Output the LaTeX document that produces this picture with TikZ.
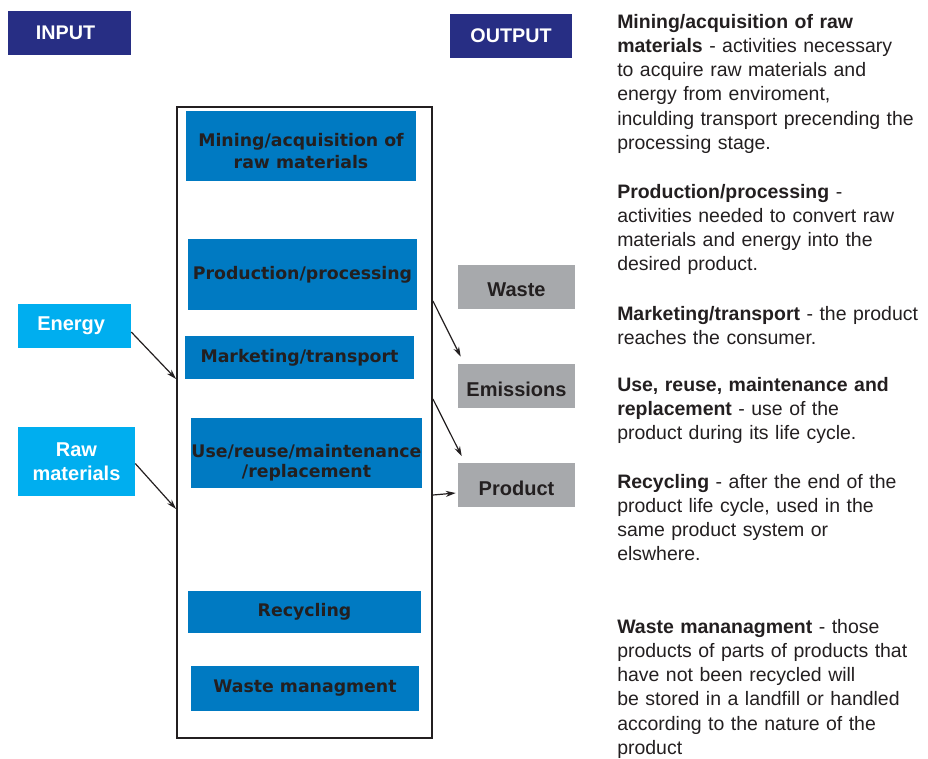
\documentclass[tikz,border=0pt]{standalone}
\usepackage{fontspec}
\setmainfont{Liberation Sans}
\newfontfamily\stagefont{DejaVu Sans}
\usetikzlibrary{arrows.meta}

\definecolor{hdrblue}{RGB}{39,46,132}
\definecolor{stageblue}{RGB}{0,122,194}
\definecolor{inblue}{RGB}{0,174,239}
\definecolor{outgray}{RGB}{167,169,172}
\definecolor{txt}{RGB}{35,31,32}

\tikzset{
	header/.style={fill=hdrblue,text=white,font=\bfseries\fontsize{14.8}{15}\selectfont,
		minimum width=92pt,minimum height=33pt,inner sep=0pt},
	stage/.style={fill=stageblue,text=txt,font=\stagefont\bfseries\fontsize{13}{16.5}\selectfont,
		align=center,inner sep=0pt},
	inbox/.style={fill=inblue,text=white,font=\bfseries\fontsize{15}{18}\selectfont,
		align=center,inner sep=0pt},
	outbox/.style={fill=outgray,text=txt,font=\bfseries\fontsize{15}{15}\selectfont,
		minimum width=87.75pt,minimum height=33pt,inner sep=0pt,text height=15pt,text depth=0pt},
	note/.style={anchor=base west,text=txt,inner sep=0pt,text width=250pt,align=left,
		font=\fontsize{14.6}{18.2}\selectfont},
	arr/.style={-{Stealth[length=7.5pt,width=4.5pt]},line width=0.9pt,draw=txt}
}

\begin{document}
\begin{tikzpicture}[x=0.75pt,y=-0.75pt]
	\useasboundingbox (0,0) rectangle (928,758);

	\node[header] (input) at (69.5,33) {INPUT\hspace*{6pt}};
	\node[header] (output) at (511,36) {\raisebox{-1.5pt}{OUTPUT}};

	% life cycle column
	\node[draw=txt,line width=1.4pt,minimum width=191.25pt,minimum height=473.25pt] (frame) at (304.5,422.5) {};
	\node[stage,minimum width=172.5pt,minimum height=52.5pt] (mining) at (301,146) {\raisebox{-8.5pt}[0pt][0pt]{\begin{tabular}{@{}c@{}}Mining/acquisition of\\raw materials\end{tabular}}};
	\node[stage,minimum width=171.75pt,minimum height=53.25pt] (prod) at (302.5,274.5) {Production/processing};
	\node[stage,minimum width=171.75pt,minimum height=32.25pt] (market) at (299.5,357.5) {Marketing/transport};
	\node[stage,minimum width=171.75pt,minimum height=52.5pt] (use) at (306.5,453) {\raisebox{-10.5pt}[0pt][0pt]{\begin{tabular}{@{}c@{}}Use/reuse/maintenance\\[-1.5pt]/replacement\end{tabular}}};
	\node[stage,minimum width=174.75pt,minimum height=31.5pt] (recyc) at (304.5,612) {Recycling};
	\node[stage,minimum width=171pt,minimum height=33.75pt] (wastemg) at (305,688.5) {Waste managment};

	% inputs
	\node[inbox,minimum width=84.75pt,minimum height=33pt] (energy) at (74.5,326) {Energy\hspace*{5pt}};
	\node[inbox,minimum width=87.75pt,minimum height=51.75pt] (raw) at (76.5,461.5) {Raw\\materials};

	% outputs
	\node[outbox] (waste) at (516.5,286.5) {Waste};
	\node[outbox] (emis) at (516.5,386) {Emissions};
	\node[outbox] (product) at (516.5,485) {Product};

	\draw[arr] ([yshift=-4.5pt]energy.east) -- (frame.west |- 0,379);
	\draw[arr] ([yshift=-1.5pt]raw.east) -- (frame.west |- 0,509);
	\draw[arr] (frame.east |- 0,301) -- ([shift={(3,-7)}]emis.north west);
	\draw[arr] (frame.east |- 0,399) -- ([shift={(4,-6.5)}]product.north west);
	\draw[arr] (frame.east |- 0,495) -- ([shift={(-2,8)}]product.west);

	% descriptions
	\node[note] (d1) at (617,28) {\textbf{Mining/acquisition of raw}\\\textbf{materials} - activities necessary\\to acquire raw materials and\\energy from enviroment,\\inculding transport precending the\\processing stage.};
	\node[note] (d2) at (617,198) {\textbf{Production/processing} -\\activities needed to convert raw\\materials and energy into the\\desired product.};
	\node[note] (d3) at (617,320) {\textbf{Marketing/transport} - the product\\reaches the consumer.};
	\node[note] (d4) at (617,391) {\textbf{Use, reuse, maintenance and}\\\textbf{replacement} - use of the\\product during its life cycle.};
	\node[note] (d5) at (617,488) {\textbf{Recycling} - after the end of the\\product life cycle, used in the\\same product system or\\elswhere.};
	\node[note] (d6) at (617,633) {\textbf{Waste mananagment} - those\\products of parts of products that\\have not been recycled will\\be stored in a landfill or handled\\according to the nature of the\\product};
\end{tikzpicture}
\end{document}
